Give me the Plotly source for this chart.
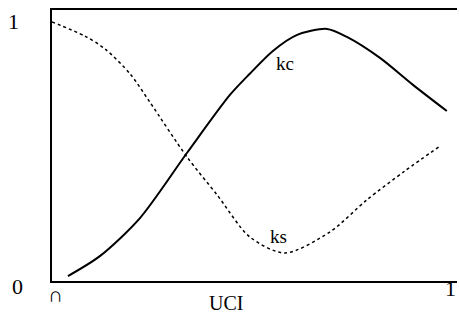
import plotly.graph_objects as go

# kc curve (solid)
kc_x = [0.04, 0.121, 0.221, 0.339, 0.447, 0.497, 0.555, 0.616, 0.691, 0.741, 0.824, 0.907, 0.992]
kc_y = [0.019, 0.097, 0.243, 0.494, 0.718, 0.80, 0.888, 0.950, 0.973, 0.942, 0.861, 0.757, 0.656]

# ks curve (dotted)
ks_x = [0.0, 0.083, 0.133, 0.196, 0.246, 0.339, 0.415, 0.497, 0.585, 0.698, 0.791, 0.887, 0.975]
ks_y = [1.0, 0.945, 0.896, 0.800, 0.690, 0.479, 0.332, 0.17, 0.108, 0.189, 0.313, 0.425, 0.521]

serif = "Liberation Serif, Times New Roman, serif"

fig = go.Figure()
fig.add_trace(go.Scatter(x=kc_x, y=kc_y, mode="lines",
                         line=dict(color="black", width=2, shape="spline", smoothing=0.8)))
fig.add_trace(go.Scatter(x=ks_x, y=ks_y, mode="lines",
                         line=dict(color="black", width=1.5, dash="dot", shape="spline", smoothing=0.8)))

fig.update_layout(
    width=459, height=324,
    margin=dict(l=52, r=2, t=10, b=43),
    paper_bgcolor="white", plot_bgcolor="white",
    showlegend=False,
    font=dict(family=serif, color="black"),
    xaxis=dict(range=[0, 1.0176], showgrid=False, zeroline=False, showticklabels=False,
               ticks="", showline=True, linecolor="black", linewidth=2, mirror=True),
    yaxis=dict(range=[0, 1.046], showgrid=False, zeroline=False, showticklabels=False,
               ticks="", showline=True, linecolor="black", linewidth=2),
)

# curve labels
fig.add_annotation(x=0.585, y=0.838, text="kc", showarrow=False, font=dict(size=19))
fig.add_annotation(x=0.568, y=0.17, text="ks", showarrow=False, font=dict(size=19))

# axis labels as in the original scan
fig.add_annotation(xref="paper", yref="y", x=-0.095, y=1.0, text="1", showarrow=False,
                   xanchor="center", font=dict(size=22))
fig.add_annotation(xref="paper", yref="paper", x=-0.085, y=-0.075, text="0", showarrow=False,
                   xanchor="center", font=dict(size=22))
fig.add_annotation(xref="x", yref="paper", x=0.01, y=-0.105, text="∩", showarrow=False,
                   xanchor="center", font=dict(size=21))
fig.add_annotation(xref="x", yref="paper", x=1.0, y=-0.08, text="1", showarrow=False,
                   xanchor="center", font=dict(size=22))
fig.add_annotation(xref="x", yref="paper", x=0.436, y=-0.13, text="UCI", showarrow=False,
                   xanchor="center", font=dict(size=20))

fig.write_html("out.html", config=dict(displayModeBar=False),
               post_script="document.body.style.margin='0';")
